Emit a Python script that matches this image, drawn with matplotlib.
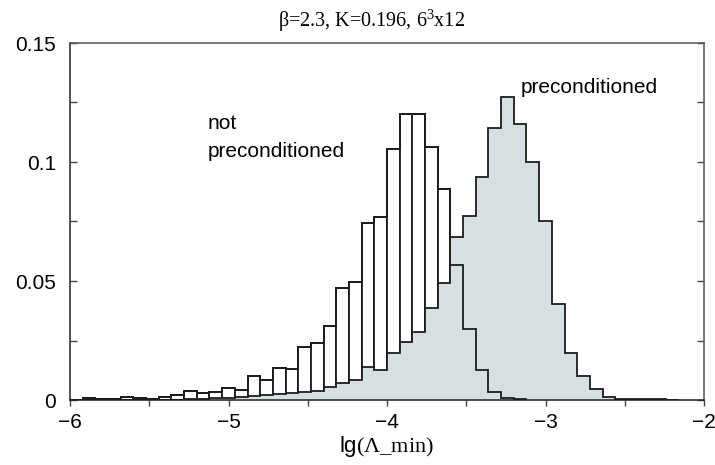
import numpy as np
import matplotlib

matplotlib.use("Agg")
import matplotlib.pyplot as plt
from matplotlib.ticker import MultipleLocator

# histogram bins: 50 bins of width 0.08 on [-6, -2]
bin_lo, bin_hi, bin_w = -6.0, -2.0, 0.08

# not preconditioned (white bars)
not_precond = [
    0.0, 0.0010, 0.0006, 0.0006, 0.0014, 0.0010, 0.0004, 0.0013, 0.0020, 0.0036,
    0.0028, 0.0032, 0.0052, 0.0044, 0.0101, 0.0086, 0.0136, 0.0132, 0.0223, 0.0240,
    0.0313, 0.0472, 0.0497, 0.0745, 0.0768, 0.1055, 0.1200, 0.1200, 0.1062, 0.0888,
    0.0567, 0.0299, 0.0126, 0.0033, 0.0008, 0.0003,
]

# preconditioned (filled step)
precond = [
    0.0, 0.0, 0.0, 0.0, 0.0, 0.0, 0.0, 0.0, 0.0001, 0.0003,
    0.0005, 0.0007, 0.0010, 0.0013, 0.0016, 0.0022, 0.0027, 0.0029, 0.0032, 0.0038,
    0.0053, 0.0073, 0.0084, 0.0140, 0.0126, 0.0196, 0.0245, 0.0287, 0.0388, 0.0490,
    0.0683, 0.0774, 0.0938, 0.1144, 0.1272, 0.1158, 0.0999, 0.0754, 0.0403, 0.0199,
    0.0102, 0.0045, 0.0014, 0.0005, 0.0004, 0.0003, 0.0003, 0.0002,
]

ytick_vals = [0, 0.05, 0.1, 0.15]
ytick_labels = ["0", "0.05", "0.1", "0.15"]
xtick_vals = [-6, -5, -4, -3, -2]

ink = "#1c1c1c"
fill_gray = "#d6e0e3"

plt.rcParams["mathtext.fontset"] = "custom"
plt.rcParams["mathtext.sf"] = "Liberation Sans"
plt.rcParams["mathtext.rm"] = "Liberation Serif"

np_vals = np.array(not_precond)
np_edges = bin_lo + bin_w * np.arange(len(np_vals) + 1)
pc_vals = np.array(precond)
pc_edges = bin_lo + bin_w * np.arange(len(pc_vals) + 1)

fig = plt.figure(figsize=(7.15, 4.65), dpi=100)
ax = fig.add_axes([70 / 715, 65 / 465, 634 / 715, 357 / 465])

lw = 1.3
ax.bar(np_edges[:-1], np_vals, width=bin_w, align="edge", color="white",
       edgecolor=ink, linewidth=lw, zorder=1)
ax.stairs(pc_vals, pc_edges, fill=True, color=fill_gray, zorder=2)
ax.stairs(pc_vals, pc_edges, color=ink, linewidth=lw, zorder=3)
ax.stairs(np_vals, np_edges, color=ink, linewidth=lw, zorder=4)

ax.set_xlim(-6, -2)
ax.set_ylim(0, 0.15)
ax.set_xticks(xtick_vals)
ax.xaxis.set_minor_locator(MultipleLocator(0.5))
ax.set_yticks(ytick_vals)
ax.set_yticklabels(ytick_labels)
ax.yaxis.set_minor_locator(MultipleLocator(0.025))

ax.tick_params(axis="x", which="both", direction="out", length=4, width=1,
               color="#444444", top=False, labelsize=15, pad=5)
ax.tick_params(axis="y", which="both", direction="in", length=5, width=1,
               color="#444444", left=True, right=True, labelsize=15, pad=10)
for side in ax.spines.values():
    side.set_color("#555555")
    side.set_linewidth(1.1)
ax.spines["left"].set_color("#222222")
ax.spines["bottom"].set_color("#222222")

ax.set_xlabel(r"$\mathsf{lg}$(Λ_min)", family="Liberation Serif", fontsize=16, labelpad=2)
ax.text(0.476, 1.045, r"β=2.3, K=0.196, 6$^{\rm 3}$x12", transform=ax.transAxes,
        ha="center", va="baseline", family="Liberation Serif", fontsize=14.5)

ax.text(-5.129, 0.1139, "not", family="Liberation Sans", fontsize=15, va="baseline")
ax.text(-5.129, 0.1021, "preconditioned", family="Liberation Sans", fontsize=15, va="baseline")
ax.text(-3.155, 0.1289, "preconditioned", family="Liberation Sans", fontsize=15, va="baseline")

for lab in ax.get_xticklabels() + ax.get_yticklabels():
    lab.set_family("Liberation Sans")

fig.savefig("out.png", dpi=100)
